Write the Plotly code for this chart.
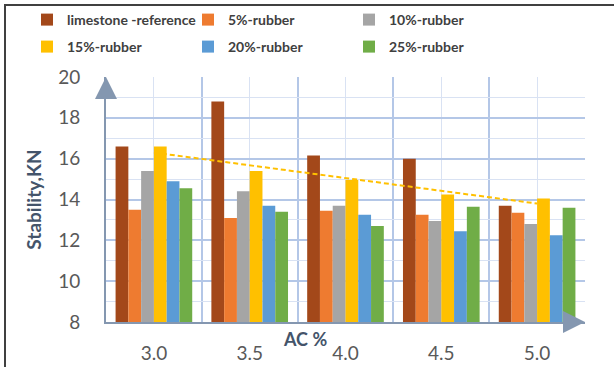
import numpy as np
import plotly.graph_objects as go

# AC content (%) on the x axis
ac = [3.0, 3.5, 4.0, 4.5, 5.0]

# Marshall stability (kN) per mix
limestone_ref = [16.6, 18.8, 16.15, 16.0, 13.7]
rubber_5 = [13.5, 13.1, 13.45, 13.25, 13.35]
rubber_10 = [15.4, 14.4, 13.7, 12.95, 12.8]
rubber_15 = [16.6, 15.4, 14.95, 14.25, 14.05]
rubber_20 = [14.9, 13.7, 13.25, 12.45, 12.25]
rubber_25 = [14.55, 13.4, 12.7, 13.65, 13.6]

series_names = ["limestone -reference", "5%-rubber", "10%-rubber",
                "15%-rubber", "20%-rubber", "25%-rubber"]
series_values = [limestone_ref, rubber_5, rubber_10, rubber_15, rubber_20, rubber_25]
series_colors = ["#A3481A", "#EE7B30", "#A5A5A5", "#FFC000", "#5B9BD5", "#70AD47"]
# first three entries go in the upper legend row, the rest in the lower row
series_legend = ["legend", "legend", "legend", "legend2", "legend2", "legend2"]

W, H = 614, 367
ML, MR, MT, MB = 106, 29, 77, 45

axis_col = "#8497B0"
grid_major = "#B4C7E7"
grid_minor = "#D9E2F3"
tick_col = "#595959"
title_col = "#44546A"
FONT = "Lato"

fig = go.Figure()
for name, vals, col, lg in zip(series_names, series_values, series_colors, series_legend):
    fig.add_trace(go.Bar(x=ac, y=vals, name=name, legend=lg,
                         marker=dict(color=col, line=dict(width=0))))

# linear trend of the 15%-rubber series
coef = np.polyfit(np.arange(len(ac)), rubber_15, 1)
trend = np.polyval(coef, np.arange(len(ac)))
fig.add_trace(go.Scatter(x=ac, y=trend, mode="lines", showlegend=False,
                         line=dict(color="#FFC000", width=2, dash="5px,3px")))

legend_common = dict(orientation="h", xref="container", yref="container",
                     xanchor="left", yanchor="middle",
                     entrywidth=116, entrywidthmode="pixels",
                     bgcolor="rgba(0,0,0,0)", borderwidth=0,
                     font=dict(family=FONT, size=14, color="#404040", weight="bold"),
                     itemwidth=30)

fig.update_layout(
    width=W, height=H,
    margin=dict(l=ML, r=MR, t=MT, b=MB, autoexpand=False),
    paper_bgcolor="white", plot_bgcolor="white",
    barmode="group", bargap=0.2, bargroupgap=0,
    font=dict(family=FONT, color=tick_col),
    legend=dict(legend_common, x=27 / W, y=1 - 20 / H),
    legend2=dict(legend_common, x=27 / W, y=1 - 47 / H),
    xaxis=dict(range=[2.75, 5.25], tickvals=ac, tickformat=".1f",
               showgrid=True, gridcolor=grid_minor, gridwidth=1,
               showline=True, linecolor=axis_col, linewidth=2,
               ticks="", ticklabelstandoff=13, zeroline=False,
               tickfont=dict(family=FONT, size=19, color=tick_col),
               minor=dict(tick0=2.75, dtick=0.5, showgrid=True,
                          gridcolor=grid_major, gridwidth=2, ticks="")),
    yaxis=dict(range=[8, 20], dtick=2, tick0=8,
               showgrid=True, gridcolor=grid_major, gridwidth=2,
               showline=True, linecolor=axis_col, linewidth=2,
               ticks="", ticklabelstandoff=20, zeroline=False,
               tickfont=dict(family=FONT, size=19, color=tick_col),
               title=dict(text="Stability,KN", standoff=12,
                          font=dict(family=FONT, size=19, color=title_col, weight="bold")),
               minor=dict(dtick=1, showgrid=True, gridcolor=grid_minor,
                          gridwidth=1, ticks="")),
)

# x axis title, placed left of centre under the axis
fig.add_annotation(text="AC %", xref="paper", yref="paper", x=0.415, y=-0.07,
                   xanchor="center", yanchor="middle", showarrow=False,
                   font=dict(family=FONT, size=18, color=title_col, weight="bold"))

# arrow heads on the axis ends
fig.add_annotation(x=2.75, y=20, xref="x", yref="y", ax=0, ay=16, showarrow=True,
                   arrowhead=2, arrowsize=2.2, arrowwidth=2, arrowcolor=axis_col, text="")
fig.add_annotation(x=5.25, y=8, xref="x", yref="y", ax=-16, ay=0, showarrow=True,
                   arrowhead=2, arrowsize=2.2, arrowwidth=2, arrowcolor=axis_col, text="")

# frame lines along the top and left edges of the figure
pw, ph = W - ML - MR, H - MT - MB
def px_x(p):
    return (p - ML) / pw
def px_y(p):
    return 1 + (MT - p) / ph
fig.add_shape(type="line", xref="paper", yref="paper", x0=px_x(4), x1=px_x(W), y0=px_y(5), y1=px_y(5),
              line=dict(color="#404040", width=2))
fig.add_shape(type="line", xref="paper", yref="paper", x0=px_x(5), x1=px_x(5), y0=px_y(4), y1=px_y(H),
              line=dict(color="#404040", width=2))

fig.write_html("out.html")
